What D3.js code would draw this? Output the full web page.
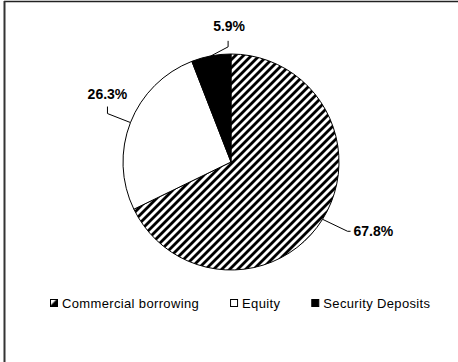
<!DOCTYPE html>
<html>
<head>
<meta charset="utf-8">
<script src="https://cdn.jsdelivr.net/npm/d3@7"></script>
<style>
  body { margin: 0; background: #fff; }
  svg { display: block; font-family: Arial, "Liberation Sans", sans-serif; }
</style>
</head>
<body>
<div id="chart"></div>
<script>
'use strict'

// data
const categories = ['Commercial borrowing', 'Equity', 'Security Deposits']
const shares = [67.8, 26.3, 5.9]
const labels = ['67.8%', '26.3%', '5.9%']

const svgWidth = 458, svgHeight = 362
const cx = 231, cy = 162, radius = 108

const svg = d3.select('#chart')
    .append('svg')
    .attr('width', svgWidth)
    .attr('height', svgHeight)

// hatch patterns
const defs = svg.append('defs')
const step = 8 / Math.SQRT2
const hatch = defs.append('pattern')
    .attr('id', 'hatch')
    .attr('patternUnits', 'userSpaceOnUse')
    .attr('width', step)
    .attr('height', step)
    .attr('patternTransform', 'rotate(45)')
hatch.append('rect').attr('width', step).attr('height', step).attr('fill', '#fff')
hatch.append('rect').attr('width', step / 2).attr('height', step).attr('fill', '#000')

const swatch = defs.append('pattern')
    .attr('id', 'swatch')
    .attr('patternContentUnits', 'objectBoundingBox')
    .attr('width', 1).attr('height', 1)
swatch.append('rect').attr('width', 1).attr('height', 1).attr('fill', '#000')
swatch.append('path').attr('d', 'M0,0 L0.85,0 L0,0.85 Z').attr('fill', '#fff')

const fills = ['url(#hatch)', '#fff', '#000']

// frame (top and left edges only, like the source)
svg.append('line').attr('x1', 4).attr('x2', svgWidth).attr('y1', 1.5).attr('y2', 1.5)
    .attr('stroke', '#222').attr('stroke-width', 1.5)
svg.append('line').attr('x1', 4.5).attr('x2', 4.5).attr('y1', 1).attr('y2', svgHeight)
    .attr('stroke', '#333').attr('stroke-width', 2)

const pie = d3.pie().sort(null).value(d => d)
const arcs = pie(shares)
const arc = d3.arc().innerRadius(0).outerRadius(radius)

const g = svg.append('g').attr('transform', `translate(${cx},${cy})`)

g.selectAll('.slice')
    .data(arcs)
    .join('path')
    .attr('class', 'slice')
    .attr('d', arc)
    .attr('fill', (d, i) => fills[i])
    .attr('stroke', '#000')
    .attr('stroke-width', 1)

// leader lines + labels
// per label: elbow offset from arc edge, then second offset, then text offset
const leader = [
    { elbow: [25, 12], end: [3, 0], anchor: 'start', text: [3, 5] },
    { elbow: [-23, -9], end: [0, -7], anchor: 'middle', text: [0, -8] },
    { elbow: [17, -9], end: [0, -6], anchor: 'middle', text: [1, -10] }
]

arcs.forEach((d, i) => {
    const a = (d.startAngle + d.endAngle) / 2
    const p0 = [radius * Math.sin(a), -radius * Math.cos(a)]
    const p1 = [p0[0] + leader[i].elbow[0], p0[1] + leader[i].elbow[1]]
    const p2 = [p1[0] + leader[i].end[0], p1[1] + leader[i].end[1]]
    g.append('polyline')
        .attr('points', [p0, p1, p2].map(p => p.join(',')).join(' '))
        .attr('fill', 'none')
        .attr('stroke', '#000')
        .attr('stroke-width', 1)
    g.append('text')
        .attr('x', p2[0] + leader[i].text[0])
        .attr('y', p2[1] + leader[i].text[1])
        .attr('text-anchor', leader[i].anchor)
        .attr('font-size', 14)
        .attr('font-weight', 'bold')
        .text(labels[i])
})

// legend
const legend = svg.append('g').attr('transform', 'translate(50,303)')
let x = 0
categories.forEach((c, i) => {
    const item = legend.append('g').attr('transform', `translate(${x},0)`)
    item.append('rect')
        .attr('x', 0.5).attr('y', -3.5)
        .attr('width', 7).attr('height', 7)
        .attr('fill', i == 0 ? 'url(#swatch)' : fills[i])
        .attr('stroke', '#000')
    const t = item.append('text')
        .attr('x', 12).attr('y', 4.5)
        .attr('font-size', 13)
        .attr('letter-spacing', 0.35)
        .text(c)
    x += 12 + t.node().getComputedTextLength() + 31
})
</script>
</body>
</html>
